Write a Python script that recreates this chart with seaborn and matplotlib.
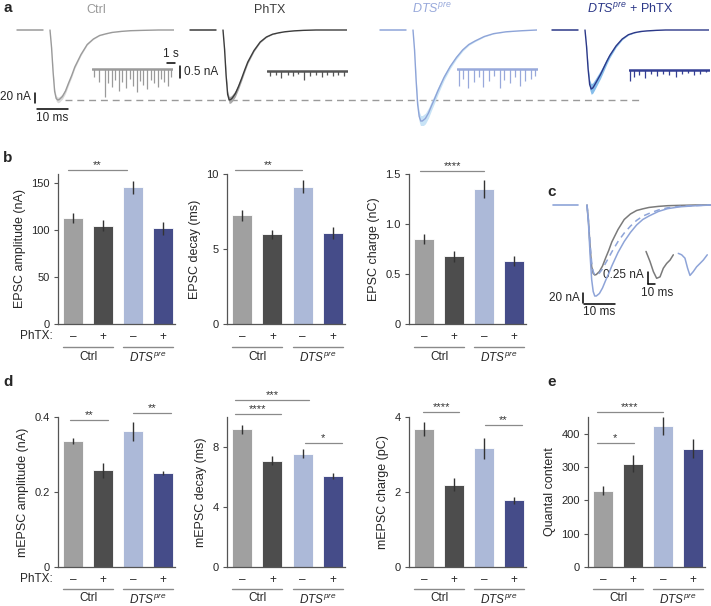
import numpy as np
import pandas as pd
import matplotlib
matplotlib.use('Agg')
import matplotlib.pyplot as plt
import seaborn as sns

sns.set_style('ticks')
plt.rcParams['font.family'] = ['Liberation Sans', 'DejaVu Sans']
plt.rcParams['mathtext.fontset'] = 'custom'
plt.rcParams['mathtext.rm'] = 'Liberation Sans'
plt.rcParams['mathtext.it'] = 'Liberation Sans:italic'

# ---- data ----
conditions = ['Ctrl', 'PhTX', 'DTS', 'DTS+PhTX']
bar_colors = ['#a0a0a0', '#4d4d4d', '#a4b6e0', '#3a4394']
trace_colors = ['#9a9a9a', '#3c3c3c', '#8ea4d8', '#2c3888']
band_colors = ['#dadada', '#a8a8a8', '#c8e3f6', '#86bdea']
mini_colors = ['#9a9a9a', '#555555', '#98a9db', '#343f94']

# mean EPSC traces (nA) sampled at trace_t (ms after onset)
trace_t = [0, 0.5, 1, 1.5, 2, 2.5, 3, 4, 5, 6, 7, 8, 10, 12, 14, 16, 18, 20, 23, 26, 30, 35, 40]
ctrl_trace = [0, -35, -84, -123, -137, -140, -139, -133, -122, -106, -91, -74, -49, -29,
              -18, -11, -7.7, -4.9, -2.8, -1.4, -0.7, 0, 0]
phtx_trace = [0, -38, -91, -129, -140, -139, -136, -127, -113, -97, -80, -64, -41, -24,
              -14, -8.4, -5.6, -3.5, -1.7, -0.7, 0, 0, 0]
dts_trace = [0, -40, -100, -149, -173, -182, -182, -177, -166, -151, -137, -122, -95, -73,
             -55, -40, -29, -22, -13, -7.3, -3.6, -1.5, 0]
dtsphtx_trace = [0, -33, -78, -109, -118, -116, -111, -100, -89, -76, -63, -51, -32, -18,
                 -9.4, -5.3, -3, -1.8, -0.7, 0, 0, 0, 0]
trace_sem = [0.04, 0.05, 0.06, 0.09]

# mEPSC events in 10 s sweeps: time (s), amplitude (nA)
ctrl_mini_t = [0.3, 0.9, 1.6, 2.0, 2.5, 2.9, 3.4, 3.8, 4.3, 4.7, 5.1, 5.6, 6.0, 6.4, 6.9,
               7.3, 7.7, 8.2, 8.6, 9.0, 9.5, 9.8]
ctrl_mini_a = [0.35, 0.55, 1.15, 0.6, 0.75, 0.45, 0.9, 0.55, 0.8, 0.4, 0.7, 0.95, 0.5, 0.65,
               0.85, 0.45, 0.6, 0.75, 0.4, 0.55, 0.7, 0.35]
phtx_mini_t = [0.4, 1.1, 1.8, 2.6, 3.3, 3.9, 4.6, 5.4, 6.1, 6.8, 7.5, 8.2, 8.9, 9.6]
phtx_mini_a = [0.2, 0.15, 0.3, 0.18, 0.22, 0.14, 0.38, 0.2, 0.16, 0.25, 0.18, 0.22, 0.15, 0.2]
dts_mini_t = [0.2, 0.7, 1.4, 2.1, 2.7, 3.3, 4.0, 4.6, 5.3, 5.9, 6.6, 7.2, 7.9, 8.5, 9.2, 9.7]
dts_mini_a = [0.7, 0.4, 0.8, 0.55, 0.35, 0.75, 0.5, 0.3, 0.8, 0.45, 0.6, 0.35, 0.7, 0.5, 0.4, 0.3]
dp_mini_t = [0.1, 0.6, 1.3, 2.0, 2.8, 3.5, 4.3, 5.0, 5.8, 6.6, 7.4, 8.1, 8.9, 9.6]
dp_mini_a = [0.45, 0.3, 0.2, 0.35, 0.18, 0.25, 0.15, 0.22, 0.3, 0.18, 0.12, 0.2, 0.15, 0.1]

# representative single mEPSCs for panel c (ms, nA)
c_mini_ctrl_t = [0, 5.7, 10.5, 15.2, 20, 24.7, 29.5, 34.3, 39]
c_mini_ctrl_v = [-0.03, -0.24, -0.45, -0.59, -0.56, -0.38, -0.28, -0.21, -0.10]
c_mini_dts_t = [0, 4.8, 9.5, 13.3, 16.7, 21.4, 26.2, 31, 35.7, 41.4]
c_mini_dts_v = [-0.07, -0.10, -0.17, -0.38, -0.53, -0.45, -0.35, -0.28, -0.21, -0.10]

# bar summaries (mean, sem)
epsc_amp = [113, 105, 146, 102]
epsc_amp_err = [5, 6, 7, 7]
epsc_decay = [7.25, 6.0, 9.15, 6.05]
epsc_decay_err = [0.35, 0.3, 0.45, 0.4]
epsc_charge = [0.85, 0.68, 1.35, 0.635]
epsc_charge_err = [0.05, 0.055, 0.09, 0.05]
mepsc_amp = [0.335, 0.258, 0.362, 0.25]
mepsc_amp_err = [0.008, 0.02, 0.025, 0.005]
mepsc_decay = [9.2, 7.1, 7.55, 6.05]
mepsc_decay_err = [0.3, 0.3, 0.3, 0.2]
mepsc_charge = [3.68, 2.2, 3.17, 1.78]
mepsc_charge_err = [0.18, 0.18, 0.28, 0.1]
quantal = [229, 310, 423, 355]
quantal_err = [14, 25, 28, 28]

phtx_ticks = ['\u2013', '+', '\u2013', '+']
groups = ['Ctrl', r'$\mathit{DTS}^{\mathit{pre}}$']

# ---- layout helpers ----
W, H = 711, 606
fig = plt.figure(figsize=(W / 100, H / 100), dpi=100)


def px_axes(x0, y0, x1, y1):
    ax = fig.add_axes([x0 / W, 1 - y1 / H, (x1 - x0) / W, (y1 - y0) / H])
    ax.patch.set_alpha(0)
    return ax


ov = px_axes(0, 0, W, H)
ov.set_xlim(0, W)
ov.set_ylim(H, 0)
ov.axis('off')

FS = 8.5
for lab, x, y in [('a', 3, 8), ('b', 3, 158), ('c', 547, 192), ('d', 3, 382), ('e', 547, 382)]:
    ov.text(x, y, lab, fontsize=11, fontweight='bold', va='center', ha='left')

# ---- panel a: mean EPSC traces ----
starts = [50, 223, 413, 585]
traces = [ctrl_trace, phtx_trace, dts_trace, dtsphtx_trace]
t = np.array(trace_t)
trace_axes = []
for i, x0 in enumerate(starts):
    ax = px_axes(x0 - 50, 0, x0 + 124, 125)
    ax.set_xlim(-50 / 3.1, 124 / 3.1)
    ax.set_ylim(-190, 60)
    ax.axis('off')
    tr = np.array(traces[i])
    ax.plot([-10.6, -2.3], [0, 0], color=trace_colors[i], lw=1.1)
    ax.fill_between(t, tr * (1 + trace_sem[i]), tr * (1 - trace_sem[i]),
                    color=band_colors[i], lw=0)
    ax.plot(t, tr, color=trace_colors[i], lw=1.0)
    trace_axes.append(ax)

ax0 = trace_axes[0]
peak = min(ctrl_trace)
ax0.plot([4.8, 190], [peak, peak], color='#9a9a9a', lw=1, dashes=(5, 3.5), clip_on=False, zorder=0)
# scale bars
ax0.plot([-4.8, -4.8], [-126, -146], color='k', lw=1.1, clip_on=False)
ax0.plot([-4.2, 5.8], [-158, -158], color='k', lw=1.1, clip_on=False)
ov.text(31, 97, '20 nA', fontsize=FS, ha='right', va='center')
ov.text(52, 112, '10 ms', fontsize=FS, ha='center', va='top')

heading_kw = dict(fontsize=FS + 0.5, ha='center', va='center')
ov.text(96, 10, 'Ctrl', color='#9a9a9a', **heading_kw)
ov.text(270, 10, 'PhTX', color='#3c3c3c', **heading_kw)
ov.text(432, 9, r'$\mathit{DTS}^{\mathit{pre}}$', color='#98a9db', **heading_kw)
ov.text(630, 9, r'$\mathit{DTS}^{\mathit{pre}}$ + PhTX', color='#2c3888', **heading_kw)

# mini sweeps
mini_sets = [(ctrl_mini_t, ctrl_mini_a), (phtx_mini_t, phtx_mini_a),
             (dts_mini_t, dts_mini_a), (dp_mini_t, dp_mini_a)]
mini_pos = [(92, 69), (267, 71), (457, 69), (629, 70)]
for i, ((mt, ma), (mx, my)) in enumerate(zip(mini_sets, mini_pos)):
    ax = px_axes(mx, my - 9, mx + 81, my + 31)
    ax.set_xlim(0, 10.1)
    ax.set_ylim(-31 / 24, 9 / 24)
    ax.axis('off')
    ax.plot([0, 10.1], [0, 0], color=mini_colors[i], lw=1.8)
    ax.vlines(mt, -np.array(ma), 0, color=mini_colors[i], lw=0.9)
    if i == 0:
        ax.plot([9.4, 10.4], [0.25, 0.25], color='k', lw=1.1, clip_on=False)
        ax.plot([11.0, 11.0], [0.125, -0.375], color='k', lw=1.1, clip_on=False)
ov.text(171, 60, '1 s', fontsize=FS, ha='center', va='bottom')
ov.text(184, 72, '0.5 nA', fontsize=FS, ha='left', va='center')

# ---- panel c: overlay ----
axc = px_axes(545, 195, 711, 310)
axc.set_xlim(-42 / 3.1, 124 / 3.1)
axc.set_ylim(-210, 20)
axc.axis('off')
ctrl_arr = np.array(ctrl_trace)
dts_arr = np.array(dts_trace)
axc.plot([-10.9, -2.9], [0, 0], color='#8ea4d8', lw=1.2)
axc.plot(t, ctrl_arr, color='#7a7a7a', lw=1.1)
axc.plot(t, dts_arr, color='#8ea4d8', lw=1.1)
axc.plot(t, dts_arr * ctrl_arr.min() / dts_arr.min(), color='#8ea4d8', lw=1.1, dashes=(4, 3))
axc.plot([-1.3, -1.3], [-176, -196], color='k', lw=1.1, clip_on=False)
axc.plot([-1.0, 9.0], [-198, -198], color='k', lw=1.1, clip_on=False)
ov.text(580, 298, '20 nA', fontsize=FS, ha='right', va='center')
ov.text(599, 306, '10 ms', fontsize=FS, ha='center', va='top')

axm = px_axes(640, 240, 711, 290)
axm.set_xlim(0, 71 / 0.7)
axm.set_ylim(-40 / 48, 10 / 48)
axm.axis('off')
axm.plot(np.array(c_mini_ctrl_t) + 8.6, c_mini_ctrl_v, color='#7a7a7a', lw=1.1)
axm.plot(np.array(c_mini_dts_t) + 54.7, c_mini_dts_v, color='#8ea4d8', lw=1.1)
axm.plot([11.4, 11.4], [-0.458, -0.708], color='k', lw=1.1, clip_on=False)
axm.plot([11.4, 21.4], [-0.708, -0.708], color='k', lw=1.1, clip_on=False)
ov.text(644, 275, '0.25 nA', fontsize=FS, ha='right', va='center')
ov.text(657, 287, '10 ms', fontsize=FS, ha='center', va='top')


# ---- bar panels ----
def bar_panel(rect, vals, errs, ylim, yticks, yticklabels, ylabel, sigs, phtx_label=False,
              line_off=23, label_off=27):
    ax = px_axes(*rect)
    df = pd.DataFrame({'cond': conditions, 'val': vals})
    sns.barplot(data=df, x='cond', y='val', hue='cond', palette=bar_colors,
                width=0.667, legend=False, ax=ax, edgecolor='white', linewidth=0.6)
    ax.errorbar(range(4), vals, yerr=errs, fmt='none', ecolor='#333333', elinewidth=1, capsize=0)
    ax.set_xlim(-0.5, 3.4)
    ax.set_ylim(*ylim)
    ax.set_yticks(yticks)
    ax.set_yticklabels(yticklabels)
    ax.set_xticks(range(4))
    ax.set_xticklabels(phtx_ticks)
    ax.set_xlabel('')
    ax.set_ylabel(ylabel, fontsize=9, labelpad=4)
    ax.tick_params(axis='y', length=3, width=0.8, color='#555555', labelsize=8, pad=3)
    ax.tick_params(axis='x', length=0, labelsize=FS, pad=5)
    sns.despine(ax=ax)
    for s in ['left', 'bottom']:
        ax.spines[s].set_color('#555555')
        ax.spines[s].set_linewidth(0.9)
    h = rect[3] - rect[1]
    tr = ax.get_xaxis_transform()
    for (gx0, gx1), g, gc in zip([(-0.33, 1.33), (1.67, 3.33)], groups, [0.5, 2.5]):
        ax.plot([gx0, gx1], [-line_off / h] * 2, transform=tr, clip_on=False, color='#8a8a8a', lw=1)
        ax.text(gc, -label_off / h, g, transform=tr, ha='center', va='top', fontsize=FS)
    if phtx_label:
        ax.text(-0.045, -12 / h, 'PhTX:', transform=ax.transAxes, ha='right', va='center', fontsize=FS)
    for x0, x1, y, star in sigs:
        ax.plot([x0, x1], [y, y], color='#8a8a8a', lw=0.9, clip_on=False)
        ax.text((x0 + x1) / 2, y, star, ha='center', va='bottom', fontsize=8, color='#333333')
    return ax


bar_panel((58, 174, 175, 324), epsc_amp, epsc_amp_err, (0, 160), [0, 50, 100, 150],
          ['0', '50', '100', '150'], 'EPSC amplitude (nA)', [(-0.17, 1.8, 164.3, '**')], True)
bar_panel((227, 174, 345, 324), epsc_decay, epsc_decay_err, (0, 10), [0, 5, 10],
          ['0', '5', '10'], 'EPSC decay (ms)', [(-0.23, 1.97, 10.27, '**')])
bar_panel((409, 174, 526, 324), epsc_charge, epsc_charge_err, (0, 1.5), [0, 0.5, 1.0, 1.5],
          ['0', '0.5', '1.0', '1.5'], 'EPSC charge (nC)', [(-0.13, 2.0, 1.53, '****')])
dkw = dict(line_off=22, label_off=25)
bar_panel((58, 417, 175, 567), mepsc_amp, mepsc_amp_err, (0, 0.4), [0, 0.2, 0.4],
          ['0', '0.2', '0.4'], 'mEPSC amplitude (nA)',
          [(-0.1, 1.17, 0.392, '**'), (2.0, 3.27, 0.41, '**')], True, **dkw)
bar_panel((227, 417, 345, 567), mepsc_decay, mepsc_decay_err, (0, 10), [0, 4, 8],
          ['0', '4', '8'], 'mEPSC decay (ms)',
          [(-0.23, 1.27, 10.2, '****'), (-0.23, 2.2, 11.13, '***'), (2.07, 3.3, 8.27, '*')], **dkw)
bar_panel((409, 417, 526, 567), mepsc_charge, mepsc_charge_err, (0, 4), [0, 2, 4],
          ['0', '2', '4'], 'mEPSC charge (pC)',
          [(-0.03, 1.17, 4.13, '****'), (2.03, 3.27, 3.79, '**')], **dkw)
bar_panel((588, 417, 705, 567), quantal, quantal_err, (0, 450), [0, 100, 200, 300, 400],
          ['0', '100', '200', '300', '400'], 'Quantal content',
          [(-0.2, 2.0, 465, '****'), (-0.2, 1.03, 372, '*')], **dkw)

fig.savefig('out.png', dpi=100)
